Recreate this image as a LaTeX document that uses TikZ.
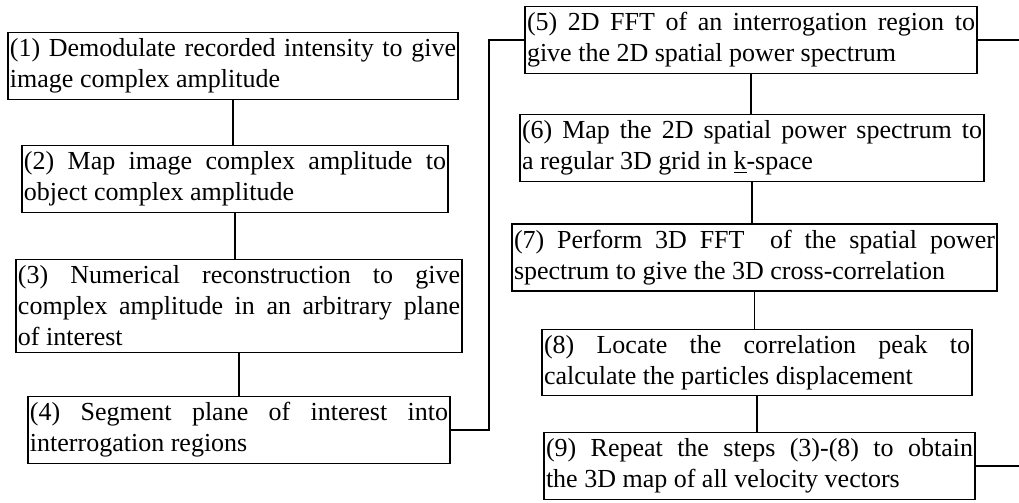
\documentclass[tikz,border=0pt]{standalone}
\usepackage{fontspec}
\setmainfont{Liberation Serif}
\usepackage{tikz}
\usetikzlibrary{calc}
\hyphenpenalty=10000

\begin{document}
\begin{tikzpicture}[x=0.5pt,y=-0.5pt,line width=0.6pt,
    box/.style={draw,text width=#1,align=justify,inner xsep=1pt,inner ysep=3pt,
      font=\fontsize{13}{15.5}\selectfont}]
        \useasboundingbox (0,0) rectangle (1019,503);
        % Left column
        \node[box=223pt] (s1) at (233,66)
          {(1) Demodulate recorded intensity to give\linebreak image complex amplitude};
        \node[box=211pt] (s2) at (235,179)
          {(2) Map image complex amplitude to\linebreak object complex amplitude};
        \node[box=221pt] (s3) at (239,306)
          {(3) Numerical reconstruction to give\linebreak complex amplitude in an arbitrary plane\linebreak of interest};
        \node[box=209pt] (s4) at (239,430)
          {(4) Segment plane of interest into\linebreak interrogation regions};
        % Right column
        \node[box=224pt] (s5) at (751,40)
          {(5) 2D FFT of an interrogation region to\linebreak give the 2D spatial power spectrum};
        \node[box=230pt] (s6) at (752,148)
          {(6) Map the 2D spatial power spectrum to\linebreak a regular 3D grid in \underline{k}-space};
        \node[box=240.5pt] (s7) at (754.5,257.5)
          {(7) Perform 3D FFT\ \ of the spatial power\linebreak spectrum to give the 3D cross-correlation};
        \node[box=213pt] (s8) at (757,362.5)
          {(8) Locate the correlation peak to\linebreak calculate the particles displacement};
        \node[box=213.5pt] (s9) at (759.5,466)
          {(9) Repeat the steps (3)-(8) to obtain\linebreak the 3D map of all velocity vectors};
        % Links
        \draw (s1.south) -- (s1.south |- s2.north);
        \draw (s2.south) -- (s2.south |- s3.north);
        \draw (s3.south) -- (s3.south |- s4.north);
        \draw (s5.south) -- (s5.south |- s6.north);
        \draw (s6.south) -- (s6.south |- s7.north);
        \draw (s7.south) -- (s7.south |- s8.north);
        \draw (s8.south) -- (s8.south |- s9.north);
        \coordinate (turn) at (489,40);
        \draw (s4.east) -| (turn) |- (s5.west);
        \coordinate (edge) at (1019,0);
        \draw (s5.east) -- (s5.east -| edge);
        \draw (s9.east) -- (s9.east -| edge);
\end{tikzpicture}
\end{document}
